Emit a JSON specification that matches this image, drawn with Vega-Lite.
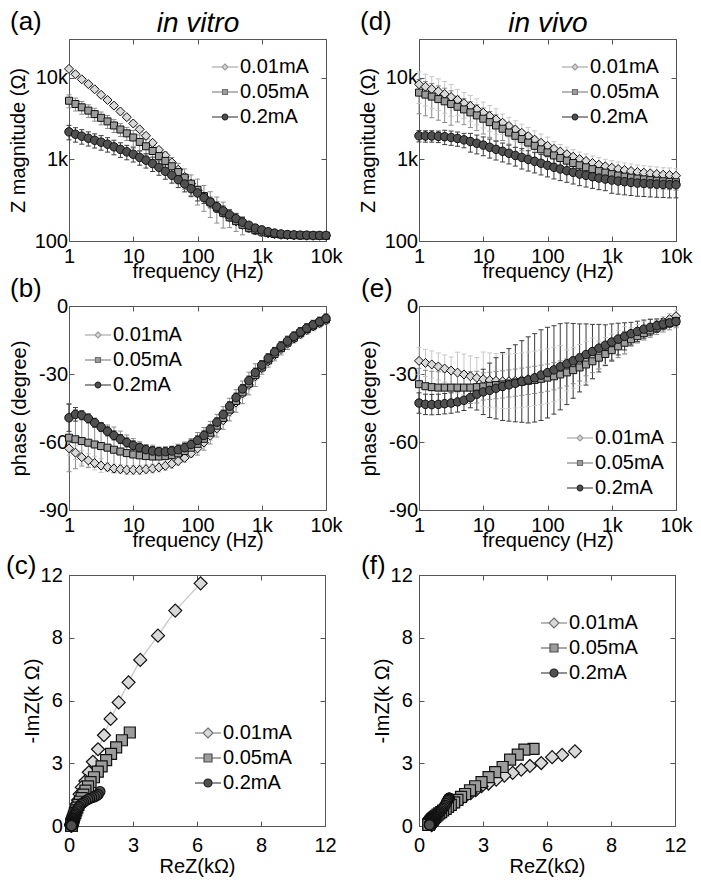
{
"$schema":"https://vega.github.io/schema/vega-lite/v6.json",
"background":"white",
"padding":{"left":5,"top":8,"right":0,"bottom":0},
"config":{
"font":"Liberation Sans",
"view":{"stroke":"#555","strokeWidth":1},
"axis":{"domain":false,"grid":false,"ticks":true,"tickSize":-5,"tickColor":"#555","tickWidth":1,"labelFont":"Liberation Sans","labelFontSize":20,"labelColor":"#000","labelPadding":7,"labelFlush":false,"labelOverlap":false,"labelBound":false,"titleFont":"Liberation Sans","titleFontSize":20,"titleFontWeight":"normal","titleColor":"#000","titlePadding":3},
"legend":{"labelFont":"Liberation Sans","labelFontSize":20,"labelColor":"#000","symbolSize":400,"symbolStrokeWidth":1.2,"labelOffset":4,"rowPadding":4,"padding":0,"symbolOpacity":1},
"title":{"font":"Liberation Sans","fontSize":26,"fontWeight":"normal","anchor":"start","frame":"group","color":"#000","offset":0,"baseline":"alphabetic"}
},
"datasets":{
"bode":[
{"p":"a","s":1,"f":1,"v":12900,"l":12100,"h":13700},{"p":"a","s":1,"f":1.26,"v":11100,"l":10400,"h":11800},{"p":"a","s":1,"f":1.58,"v":9600,"l":9000,"h":10200},{"p":"a","s":1,"f":2,"v":8400,"l":7900,"h":8900},{"p":"a","s":1,"f":2.51,"v":7250,"l":6800,"h":7700},{"p":"a","s":1,"f":3.16,"v":6200,"l":5800,"h":6600},{"p":"a","s":1,"f":3.98,"v":5360,"l":5000,"h":5700},{"p":"a","s":1,"f":5.01,"v":4570,"l":4300,"h":4850},{"p":"a","s":1,"f":6.31,"v":3880,"l":3650,"h":4100},{"p":"a","s":1,"f":7.94,"v":3300,"l":3100,"h":3500},{"p":"a","s":1,"f":10,"v":2760,"l":2600,"h":2930},{"p":"a","s":1,"f":12.6,"v":2340,"l":2200,"h":2480},{"p":"a","s":1,"f":15.8,"v":1950,"l":1830,"h":2070},{"p":"a","s":1,"f":20,"v":1600,"l":1500,"h":1700},{"p":"a","s":1,"f":25.1,"v":1310,"l":1230,"h":1390},{"p":"a","s":1,"f":31.6,"v":1120,"l":1050,"h":1190},{"p":"a","s":1,"f":39.8,"v":920,"l":860,"h":980},{"p":"a","s":1,"f":50.1,"v":750,"l":700,"h":800},{"p":"a","s":1,"f":63.1,"v":610,"l":570,"h":650},{"p":"a","s":1,"f":79.4,"v":505,"l":475,"h":535},{"p":"a","s":1,"f":100,"v":418,"l":393,"h":443},{"p":"a","s":1,"f":126,"v":352,"l":332,"h":372},{"p":"a","s":1,"f":158,"v":296,"l":280,"h":312},{"p":"a","s":1,"f":200,"v":255,"l":242,"h":268},{"p":"a","s":1,"f":251,"v":221,"l":211,"h":231},{"p":"a","s":1,"f":316,"v":194,"l":186,"h":202},{"p":"a","s":1,"f":398,"v":174,"l":168,"h":180},{"p":"a","s":1,"f":501,"v":158,"l":153,"h":163},{"p":"a","s":1,"f":631,"v":144,"l":140,"h":148},{"p":"a","s":1,"f":794,"v":135,"l":131,"h":139},{"p":"a","s":1,"f":1000,"v":129,"l":126,"h":132},{"p":"a","s":1,"f":1259,"v":124,"l":121,"h":127},{"p":"a","s":1,"f":1585,"v":121,"l":118,"h":124},{"p":"a","s":1,"f":1995,"v":119,"l":116,"h":122},{"p":"a","s":1,"f":2512,"v":118,"l":115,"h":121},{"p":"a","s":1,"f":3162,"v":117,"l":114,"h":120},{"p":"a","s":1,"f":3981,"v":117,"l":114,"h":120},{"p":"a","s":1,"f":5012,"v":116,"l":113,"h":119},{"p":"a","s":1,"f":6310,"v":116,"l":113,"h":119},{"p":"a","s":1,"f":7943,"v":116,"l":113,"h":119},{"p":"a","s":1,"f":10000,"v":116,"l":113,"h":119},
{"p":"a","s":2,"f":1,"v":5250,"l":4300,"h":6200},{"p":"a","s":2,"f":1.26,"v":4790,"l":3930,"h":5650},{"p":"a","s":2,"f":1.58,"v":4360,"l":3580,"h":5140},{"p":"a","s":2,"f":2,"v":3970,"l":3260,"h":4680},{"p":"a","s":2,"f":2.51,"v":3600,"l":2950,"h":4250},{"p":"a","s":2,"f":3.16,"v":3240,"l":2660,"h":3820},{"p":"a","s":2,"f":3.98,"v":2930,"l":2400,"h":3460},{"p":"a","s":2,"f":5.01,"v":2610,"l":2140,"h":3080},{"p":"a","s":2,"f":6.31,"v":2330,"l":1910,"h":2750},{"p":"a","s":2,"f":7.94,"v":2090,"l":1710,"h":2470},{"p":"a","s":2,"f":10,"v":1860,"l":1450,"h":2270},{"p":"a","s":2,"f":12.6,"v":1640,"l":1280,"h":2000},{"p":"a","s":2,"f":15.8,"v":1450,"l":1130,"h":1770},{"p":"a","s":2,"f":20,"v":1270,"l":990,"h":1550},{"p":"a","s":2,"f":25.1,"v":1100,"l":860,"h":1340},{"p":"a","s":2,"f":31.6,"v":960,"l":690,"h":1230},{"p":"a","s":2,"f":39.8,"v":825,"l":594,"h":1056},{"p":"a","s":2,"f":50.1,"v":700,"l":504,"h":896},{"p":"a","s":2,"f":63.1,"v":598,"l":430,"h":766},{"p":"a","s":2,"f":79.4,"v":505,"l":364,"h":646},{"p":"a","s":2,"f":100,"v":425,"l":276,"h":574},{"p":"a","s":2,"f":126,"v":355,"l":231,"h":479},{"p":"a","s":2,"f":158,"v":298,"l":194,"h":402},{"p":"a","s":2,"f":200,"v":256,"l":166,"h":346},{"p":"a","s":2,"f":251,"v":222,"l":144,"h":300},{"p":"a","s":2,"f":316,"v":195,"l":146,"h":244},{"p":"a","s":2,"f":398,"v":175,"l":131,"h":219},{"p":"a","s":2,"f":501,"v":158,"l":119,"h":198},{"p":"a","s":2,"f":631,"v":145,"l":128,"h":162},{"p":"a","s":2,"f":794,"v":136,"l":120,"h":152},{"p":"a","s":2,"f":1000,"v":130,"l":114,"h":146},{"p":"a","s":2,"f":1259,"v":125,"l":119,"h":131},{"p":"a","s":2,"f":1585,"v":122,"l":116,"h":128},{"p":"a","s":2,"f":1995,"v":120,"l":114,"h":126},{"p":"a","s":2,"f":2512,"v":119,"l":113,"h":125},{"p":"a","s":2,"f":3162,"v":118,"l":112,"h":124},{"p":"a","s":2,"f":3981,"v":117,"l":111,"h":123},{"p":"a","s":2,"f":5012,"v":117,"l":111,"h":123},{"p":"a","s":2,"f":6310,"v":117,"l":111,"h":123},{"p":"a","s":2,"f":7943,"v":116,"l":110,"h":122},{"p":"a","s":2,"f":10000,"v":116,"l":110,"h":122},
{"p":"a","s":3,"f":1,"v":2180,"l":1740,"h":2620},{"p":"a","s":3,"f":1.26,"v":2040,"l":1630,"h":2450},{"p":"a","s":3,"f":1.58,"v":1930,"l":1540,"h":2320},{"p":"a","s":3,"f":2,"v":1820,"l":1460,"h":2180},{"p":"a","s":3,"f":2.51,"v":1720,"l":1380,"h":2060},{"p":"a","s":3,"f":3.16,"v":1630,"l":1300,"h":1960},{"p":"a","s":3,"f":3.98,"v":1540,"l":1230,"h":1850},{"p":"a","s":3,"f":5.01,"v":1430,"l":1140,"h":1720},{"p":"a","s":3,"f":6.31,"v":1330,"l":1060,"h":1600},{"p":"a","s":3,"f":7.94,"v":1240,"l":990,"h":1490},{"p":"a","s":3,"f":10,"v":1160,"l":930,"h":1390},{"p":"a","s":3,"f":12.6,"v":1060,"l":850,"h":1270},{"p":"a","s":3,"f":15.8,"v":980,"l":784,"h":1176},{"p":"a","s":3,"f":20,"v":890,"l":712,"h":1068},{"p":"a","s":3,"f":25.1,"v":800,"l":640,"h":960},{"p":"a","s":3,"f":31.6,"v":715,"l":572,"h":858},{"p":"a","s":3,"f":39.8,"v":640,"l":512,"h":768},{"p":"a","s":3,"f":50.1,"v":565,"l":452,"h":678},{"p":"a","s":3,"f":63.1,"v":500,"l":400,"h":600},{"p":"a","s":3,"f":79.4,"v":438,"l":350,"h":526},{"p":"a","s":3,"f":100,"v":388,"l":310,"h":466},{"p":"a","s":3,"f":126,"v":340,"l":289,"h":391},{"p":"a","s":3,"f":158,"v":300,"l":255,"h":345},{"p":"a","s":3,"f":200,"v":263,"l":224,"h":302},{"p":"a","s":3,"f":251,"v":234,"l":199,"h":269},{"p":"a","s":3,"f":316,"v":209,"l":178,"h":240},{"p":"a","s":3,"f":398,"v":188,"l":160,"h":216},{"p":"a","s":3,"f":501,"v":170,"l":145,"h":195},{"p":"a","s":3,"f":631,"v":156,"l":144,"h":168},{"p":"a","s":3,"f":794,"v":144,"l":132,"h":156},{"p":"a","s":3,"f":1000,"v":137,"l":126,"h":148},{"p":"a","s":3,"f":1259,"v":130,"l":120,"h":140},{"p":"a","s":3,"f":1585,"v":125,"l":115,"h":135},{"p":"a","s":3,"f":1995,"v":122,"l":117,"h":127},{"p":"a","s":3,"f":2512,"v":120,"l":115,"h":125},{"p":"a","s":3,"f":3162,"v":119,"l":114,"h":124},{"p":"a","s":3,"f":3981,"v":118,"l":113,"h":123},{"p":"a","s":3,"f":5012,"v":118,"l":113,"h":123},{"p":"a","s":3,"f":6310,"v":117,"l":112,"h":122},{"p":"a","s":3,"f":7943,"v":117,"l":112,"h":122},{"p":"a","s":3,"f":10000,"v":117,"l":112,"h":122},
{"p":"d","s":1,"f":1,"v":8360,"l":4850,"h":11870},{"p":"d","s":1,"f":1.26,"v":7800,"l":4520,"h":11080},{"p":"d","s":1,"f":1.58,"v":7300,"l":4230,"h":10370},{"p":"d","s":1,"f":2,"v":6850,"l":3970,"h":9730},{"p":"d","s":1,"f":2.51,"v":6350,"l":3680,"h":9020},{"p":"d","s":1,"f":3.16,"v":5830,"l":3380,"h":8280},{"p":"d","s":1,"f":3.98,"v":5360,"l":3480,"h":7240},{"p":"d","s":1,"f":5.01,"v":4900,"l":3190,"h":6620},{"p":"d","s":1,"f":6.31,"v":4520,"l":2940,"h":6100},{"p":"d","s":1,"f":7.94,"v":4110,"l":2670,"h":5550},{"p":"d","s":1,"f":10,"v":3740,"l":2430,"h":5050},{"p":"d","s":1,"f":12.6,"v":3400,"l":2210,"h":4590},{"p":"d","s":1,"f":15.8,"v":3100,"l":2020,"h":4190},{"p":"d","s":1,"f":20,"v":2820,"l":2030,"h":3610},{"p":"d","s":1,"f":25.1,"v":2570,"l":1850,"h":3290},{"p":"d","s":1,"f":31.6,"v":2330,"l":1680,"h":2980},{"p":"d","s":1,"f":39.8,"v":2120,"l":1530,"h":2710},{"p":"d","s":1,"f":50.1,"v":1930,"l":1390,"h":2470},{"p":"d","s":1,"f":63.1,"v":1750,"l":1260,"h":2240},{"p":"d","s":1,"f":79.4,"v":1600,"l":1150,"h":2050},{"p":"d","s":1,"f":100,"v":1470,"l":1060,"h":1880},{"p":"d","s":1,"f":126,"v":1350,"l":1050,"h":1650},{"p":"d","s":1,"f":158,"v":1250,"l":975,"h":1525},{"p":"d","s":1,"f":200,"v":1160,"l":905,"h":1415},{"p":"d","s":1,"f":251,"v":1080,"l":842,"h":1318},{"p":"d","s":1,"f":316,"v":1010,"l":788,"h":1232},{"p":"d","s":1,"f":398,"v":957,"l":746,"h":1168},{"p":"d","s":1,"f":501,"v":905,"l":706,"h":1104},{"p":"d","s":1,"f":631,"v":863,"l":673,"h":1053},{"p":"d","s":1,"f":794,"v":824,"l":643,"h":1005},{"p":"d","s":1,"f":1000,"v":793,"l":619,"h":967},{"p":"d","s":1,"f":1259,"v":764,"l":596,"h":932},{"p":"d","s":1,"f":1585,"v":742,"l":579,"h":905},{"p":"d","s":1,"f":1995,"v":721,"l":562,"h":880},{"p":"d","s":1,"f":2512,"v":701,"l":547,"h":855},{"p":"d","s":1,"f":3162,"v":688,"l":537,"h":839},{"p":"d","s":1,"f":3981,"v":675,"l":527,"h":824},{"p":"d","s":1,"f":5012,"v":662,"l":516,"h":808},{"p":"d","s":1,"f":6310,"v":650,"l":507,"h":793},{"p":"d","s":1,"f":7943,"v":644,"l":502,"h":786},{"p":"d","s":1,"f":10000,"v":632,"l":493,"h":771},
{"p":"d","s":2,"f":1,"v":6600,"l":3630,"h":9570},{"p":"d","s":2,"f":1.26,"v":6240,"l":3430,"h":9050},{"p":"d","s":2,"f":1.58,"v":5900,"l":3250,"h":8550},{"p":"d","s":2,"f":2,"v":5500,"l":3030,"h":7980},{"p":"d","s":2,"f":2.51,"v":5160,"l":2840,"h":7480},{"p":"d","s":2,"f":3.16,"v":4790,"l":2630,"h":6950},{"p":"d","s":2,"f":3.98,"v":4430,"l":2880,"h":5980},{"p":"d","s":2,"f":5.01,"v":4110,"l":2670,"h":5550},{"p":"d","s":2,"f":6.31,"v":3780,"l":2460,"h":5100},{"p":"d","s":2,"f":7.94,"v":3470,"l":2260,"h":4680},{"p":"d","s":2,"f":10,"v":3160,"l":2050,"h":4270},{"p":"d","s":2,"f":12.6,"v":2870,"l":1870,"h":3870},{"p":"d","s":2,"f":15.8,"v":2610,"l":1700,"h":3520},{"p":"d","s":2,"f":20,"v":2380,"l":1710,"h":3050},{"p":"d","s":2,"f":25.1,"v":2140,"l":1540,"h":2740},{"p":"d","s":2,"f":31.6,"v":1950,"l":1400,"h":2500},{"p":"d","s":2,"f":39.8,"v":1780,"l":1280,"h":2280},{"p":"d","s":2,"f":50.1,"v":1610,"l":1160,"h":2060},{"p":"d","s":2,"f":63.1,"v":1470,"l":1060,"h":1880},{"p":"d","s":2,"f":79.4,"v":1330,"l":958,"h":1702},{"p":"d","s":2,"f":100,"v":1220,"l":878,"h":1562},{"p":"d","s":2,"f":126,"v":1120,"l":896,"h":1344},{"p":"d","s":2,"f":158,"v":1040,"l":832,"h":1248},{"p":"d","s":2,"f":200,"v":968,"l":774,"h":1162},{"p":"d","s":2,"f":251,"v":905,"l":724,"h":1086},{"p":"d","s":2,"f":316,"v":848,"l":678,"h":1018},{"p":"d","s":2,"f":398,"v":801,"l":641,"h":961},{"p":"d","s":2,"f":501,"v":760,"l":608,"h":912},{"p":"d","s":2,"f":631,"v":720,"l":576,"h":864},{"p":"d","s":2,"f":794,"v":690,"l":552,"h":828},{"p":"d","s":2,"f":1000,"v":660,"l":528,"h":792},{"p":"d","s":2,"f":1259,"v":635,"l":508,"h":762},{"p":"d","s":2,"f":1585,"v":615,"l":492,"h":738},{"p":"d","s":2,"f":1995,"v":598,"l":478,"h":718},{"p":"d","s":2,"f":2512,"v":583,"l":466,"h":700},{"p":"d","s":2,"f":3162,"v":570,"l":456,"h":684},{"p":"d","s":2,"f":3981,"v":558,"l":446,"h":670},{"p":"d","s":2,"f":5012,"v":548,"l":438,"h":658},{"p":"d","s":2,"f":6310,"v":540,"l":432,"h":648},{"p":"d","s":2,"f":7943,"v":532,"l":426,"h":638},{"p":"d","s":2,"f":10000,"v":525,"l":420,"h":630},
{"p":"d","s":3,"f":1,"v":1950,"l":1640,"h":2260},{"p":"d","s":3,"f":1.26,"v":1940,"l":1630,"h":2250},{"p":"d","s":3,"f":1.58,"v":1940,"l":1630,"h":2250},{"p":"d","s":3,"f":2,"v":1920,"l":1610,"h":2230},{"p":"d","s":3,"f":2.51,"v":1900,"l":1520,"h":2280},{"p":"d","s":3,"f":3.16,"v":1860,"l":1490,"h":2230},{"p":"d","s":3,"f":3.98,"v":1810,"l":1450,"h":2170},{"p":"d","s":3,"f":5.01,"v":1740,"l":1390,"h":2090},{"p":"d","s":3,"f":6.31,"v":1660,"l":1230,"h":2090},{"p":"d","s":3,"f":7.94,"v":1580,"l":1170,"h":1990},{"p":"d","s":3,"f":10,"v":1500,"l":1110,"h":1890},{"p":"d","s":3,"f":12.6,"v":1410,"l":1040,"h":1780},{"p":"d","s":3,"f":15.8,"v":1330,"l":984,"h":1676},{"p":"d","s":3,"f":20,"v":1260,"l":932,"h":1588},{"p":"d","s":3,"f":25.1,"v":1190,"l":881,"h":1499},{"p":"d","s":3,"f":31.6,"v":1120,"l":829,"h":1411},{"p":"d","s":3,"f":39.8,"v":1060,"l":763,"h":1357},{"p":"d","s":3,"f":50.1,"v":1000,"l":720,"h":1280},{"p":"d","s":3,"f":63.1,"v":948,"l":683,"h":1213},{"p":"d","s":3,"f":79.4,"v":897,"l":646,"h":1148},{"p":"d","s":3,"f":100,"v":848,"l":611,"h":1085},{"p":"d","s":3,"f":126,"v":801,"l":577,"h":1025},{"p":"d","s":3,"f":158,"v":764,"l":550,"h":978},{"p":"d","s":3,"f":200,"v":728,"l":524,"h":932},{"p":"d","s":3,"f":251,"v":695,"l":500,"h":890},{"p":"d","s":3,"f":316,"v":662,"l":477,"h":847},{"p":"d","s":3,"f":398,"v":638,"l":459,"h":817},{"p":"d","s":3,"f":501,"v":614,"l":442,"h":786},{"p":"d","s":3,"f":631,"v":591,"l":426,"h":756},{"p":"d","s":3,"f":794,"v":575,"l":414,"h":736},{"p":"d","s":3,"f":1000,"v":558,"l":385,"h":731},{"p":"d","s":3,"f":1259,"v":543,"l":375,"h":711},{"p":"d","s":3,"f":1585,"v":533,"l":368,"h":698},{"p":"d","s":3,"f":1995,"v":523,"l":361,"h":685},{"p":"d","s":3,"f":2512,"v":513,"l":354,"h":672},{"p":"d","s":3,"f":3162,"v":508,"l":351,"h":665},{"p":"d","s":3,"f":3981,"v":503,"l":347,"h":659},{"p":"d","s":3,"f":5012,"v":499,"l":344,"h":654},{"p":"d","s":3,"f":6310,"v":494,"l":341,"h":647},{"p":"d","s":3,"f":7943,"v":490,"l":338,"h":642},{"p":"d","s":3,"f":10000,"v":490,"l":338,"h":642},
{"p":"b","s":1,"f":1,"v":-62.8,"l":-65.8,"h":-59.8},{"p":"b","s":1,"f":1.26,"v":-64.7,"l":-67.7,"h":-61.7},{"p":"b","s":1,"f":1.58,"v":-66.7,"l":-69.7,"h":-63.7},{"p":"b","s":1,"f":2,"v":-68.1,"l":-71.1,"h":-65.1},{"p":"b","s":1,"f":2.51,"v":-69.3,"l":-72.3,"h":-66.3},{"p":"b","s":1,"f":3.16,"v":-70.4,"l":-73.4,"h":-67.4},{"p":"b","s":1,"f":3.98,"v":-71.1,"l":-73.1,"h":-69.1},{"p":"b","s":1,"f":5.01,"v":-71.7,"l":-73.7,"h":-69.7},{"p":"b","s":1,"f":6.31,"v":-72,"l":-74,"h":-70},{"p":"b","s":1,"f":7.94,"v":-72.3,"l":-74.3,"h":-70.3},{"p":"b","s":1,"f":10,"v":-72.3,"l":-74.3,"h":-70.3},{"p":"b","s":1,"f":12.6,"v":-72.3,"l":-74.3,"h":-70.3},{"p":"b","s":1,"f":15.8,"v":-72,"l":-74,"h":-70},{"p":"b","s":1,"f":20,"v":-71.7,"l":-73.7,"h":-69.7},{"p":"b","s":1,"f":25.1,"v":-71.2,"l":-73.2,"h":-69.2},{"p":"b","s":1,"f":31.6,"v":-70.5,"l":-72.5,"h":-68.5},{"p":"b","s":1,"f":39.8,"v":-69.6,"l":-71.6,"h":-67.6},{"p":"b","s":1,"f":50.1,"v":-68.4,"l":-70.4,"h":-66.4},{"p":"b","s":1,"f":63.1,"v":-67,"l":-69,"h":-65},{"p":"b","s":1,"f":79.4,"v":-65,"l":-67,"h":-63},{"p":"b","s":1,"f":100,"v":-62.8,"l":-64.8,"h":-60.8},{"p":"b","s":1,"f":126,"v":-60.2,"l":-62.2,"h":-58.2},{"p":"b","s":1,"f":158,"v":-57.2,"l":-59.2,"h":-55.2},{"p":"b","s":1,"f":200,"v":-54,"l":-56,"h":-52},{"p":"b","s":1,"f":251,"v":-50.4,"l":-52.4,"h":-48.4},{"p":"b","s":1,"f":316,"v":-46.6,"l":-48.6,"h":-44.6},{"p":"b","s":1,"f":398,"v":-42.6,"l":-44.6,"h":-40.6},{"p":"b","s":1,"f":501,"v":-38.6,"l":-40.6,"h":-36.6},{"p":"b","s":1,"f":631,"v":-34.8,"l":-36.8,"h":-32.8},{"p":"b","s":1,"f":794,"v":-31,"l":-33,"h":-29},{"p":"b","s":1,"f":1000,"v":-27.4,"l":-29.4,"h":-25.4},{"p":"b","s":1,"f":1259,"v":-24.4,"l":-26.4,"h":-22.4},{"p":"b","s":1,"f":1585,"v":-21.6,"l":-23.6,"h":-19.6},{"p":"b","s":1,"f":1995,"v":-19,"l":-21,"h":-17},{"p":"b","s":1,"f":2512,"v":-16.6,"l":-18.6,"h":-14.6},{"p":"b","s":1,"f":3162,"v":-14.4,"l":-16.4,"h":-12.4},{"p":"b","s":1,"f":3981,"v":-12.4,"l":-14.4,"h":-10.4},{"p":"b","s":1,"f":5012,"v":-10.6,"l":-12.6,"h":-8.6},{"p":"b","s":1,"f":6310,"v":-9,"l":-11,"h":-7},{"p":"b","s":1,"f":7943,"v":-7.6,"l":-9.6,"h":-5.6},{"p":"b","s":1,"f":10000,"v":-6.3,"l":-8.3,"h":-4.3},
{"p":"b","s":2,"f":1,"v":-58.1,"l":-73.1,"h":-43.1},{"p":"b","s":2,"f":1.26,"v":-58.8,"l":-71.8,"h":-45.8},{"p":"b","s":2,"f":1.58,"v":-59.6,"l":-70.6,"h":-48.6},{"p":"b","s":2,"f":2,"v":-60.3,"l":-71.3,"h":-49.3},{"p":"b","s":2,"f":2.51,"v":-61.1,"l":-71.1,"h":-51.1},{"p":"b","s":2,"f":3.16,"v":-61.8,"l":-71.8,"h":-51.8},{"p":"b","s":2,"f":3.98,"v":-62.5,"l":-72.5,"h":-52.5},{"p":"b","s":2,"f":5.01,"v":-63.4,"l":-73.4,"h":-53.4},{"p":"b","s":2,"f":6.31,"v":-64.2,"l":-73.2,"h":-55.2},{"p":"b","s":2,"f":7.94,"v":-64.9,"l":-72.9,"h":-56.9},{"p":"b","s":2,"f":10,"v":-65.5,"l":-72.5,"h":-58.5},{"p":"b","s":2,"f":12.6,"v":-65.9,"l":-71.9,"h":-59.9},{"p":"b","s":2,"f":15.8,"v":-66.2,"l":-71.2,"h":-61.2},{"p":"b","s":2,"f":20,"v":-66.4,"l":-71.4,"h":-61.4},{"p":"b","s":2,"f":25.1,"v":-66.4,"l":-70.4,"h":-62.4},{"p":"b","s":2,"f":31.6,"v":-66.2,"l":-70.2,"h":-62.2},{"p":"b","s":2,"f":39.8,"v":-65.8,"l":-69.8,"h":-61.8},{"p":"b","s":2,"f":50.1,"v":-65,"l":-69,"h":-61},{"p":"b","s":2,"f":63.1,"v":-64,"l":-68,"h":-60},{"p":"b","s":2,"f":79.4,"v":-62.5,"l":-66.5,"h":-58.5},{"p":"b","s":2,"f":100,"v":-60.8,"l":-65.8,"h":-55.8},{"p":"b","s":2,"f":126,"v":-58.6,"l":-63.6,"h":-53.6},{"p":"b","s":2,"f":158,"v":-55.9,"l":-60.9,"h":-50.9},{"p":"b","s":2,"f":200,"v":-52.8,"l":-57.8,"h":-47.8},{"p":"b","s":2,"f":251,"v":-49.4,"l":-54.4,"h":-44.4},{"p":"b","s":2,"f":316,"v":-45.7,"l":-50.7,"h":-40.7},{"p":"b","s":2,"f":398,"v":-41.9,"l":-46.9,"h":-36.9},{"p":"b","s":2,"f":501,"v":-38.1,"l":-43.1,"h":-33.1},{"p":"b","s":2,"f":631,"v":-34.2,"l":-39.2,"h":-29.2},{"p":"b","s":2,"f":794,"v":-30.5,"l":-35.5,"h":-25.5},{"p":"b","s":2,"f":1000,"v":-27.1,"l":-30.1,"h":-24.1},{"p":"b","s":2,"f":1259,"v":-24,"l":-27,"h":-21},{"p":"b","s":2,"f":1585,"v":-21.2,"l":-24.2,"h":-18.2},{"p":"b","s":2,"f":1995,"v":-18.6,"l":-21.6,"h":-15.6},{"p":"b","s":2,"f":2512,"v":-16.2,"l":-19.2,"h":-13.2},{"p":"b","s":2,"f":3162,"v":-14,"l":-16,"h":-12},{"p":"b","s":2,"f":3981,"v":-12,"l":-14,"h":-10},{"p":"b","s":2,"f":5012,"v":-10.2,"l":-12.2,"h":-8.2},{"p":"b","s":2,"f":6310,"v":-8.6,"l":-10.6,"h":-6.6},{"p":"b","s":2,"f":7943,"v":-7.2,"l":-9.2,"h":-5.2},{"p":"b","s":2,"f":10000,"v":-5.9,"l":-7.9,"h":-3.9},
{"p":"b","s":3,"f":1,"v":-49.3,"l":-55.3,"h":-43.3},{"p":"b","s":3,"f":1.26,"v":-47.8,"l":-50.8,"h":-44.8},{"p":"b","s":3,"f":1.58,"v":-48.2,"l":-50.2,"h":-46.2},{"p":"b","s":3,"f":2,"v":-49.6,"l":-51.6,"h":-47.6},{"p":"b","s":3,"f":2.51,"v":-51.5,"l":-53.5,"h":-49.5},{"p":"b","s":3,"f":3.16,"v":-53.4,"l":-55.4,"h":-51.4},{"p":"b","s":3,"f":3.98,"v":-55.3,"l":-57.3,"h":-53.3},{"p":"b","s":3,"f":5.01,"v":-57.1,"l":-59.1,"h":-55.1},{"p":"b","s":3,"f":6.31,"v":-58.7,"l":-60.7,"h":-56.7},{"p":"b","s":3,"f":7.94,"v":-60.2,"l":-62.2,"h":-58.2},{"p":"b","s":3,"f":10,"v":-61.5,"l":-63.5,"h":-59.5},{"p":"b","s":3,"f":12.6,"v":-62.5,"l":-64.5,"h":-60.5},{"p":"b","s":3,"f":15.8,"v":-63.4,"l":-65.4,"h":-61.4},{"p":"b","s":3,"f":20,"v":-64,"l":-66,"h":-62},{"p":"b","s":3,"f":25.1,"v":-64.3,"l":-66.3,"h":-62.3},{"p":"b","s":3,"f":31.6,"v":-64.3,"l":-66.3,"h":-62.3},{"p":"b","s":3,"f":39.8,"v":-64,"l":-66,"h":-62},{"p":"b","s":3,"f":50.1,"v":-63.4,"l":-65.4,"h":-61.4},{"p":"b","s":3,"f":63.1,"v":-62.5,"l":-64.5,"h":-60.5},{"p":"b","s":3,"f":79.4,"v":-61.1,"l":-63.1,"h":-59.1},{"p":"b","s":3,"f":100,"v":-59.3,"l":-61.3,"h":-57.3},{"p":"b","s":3,"f":126,"v":-57.1,"l":-59.1,"h":-55.1},{"p":"b","s":3,"f":158,"v":-54.4,"l":-56.4,"h":-52.4},{"p":"b","s":3,"f":200,"v":-51.3,"l":-53.3,"h":-49.3},{"p":"b","s":3,"f":251,"v":-47.9,"l":-49.9,"h":-45.9},{"p":"b","s":3,"f":316,"v":-44.2,"l":-46.2,"h":-42.2},{"p":"b","s":3,"f":398,"v":-40.4,"l":-42.4,"h":-38.4},{"p":"b","s":3,"f":501,"v":-36.6,"l":-38.6,"h":-34.6},{"p":"b","s":3,"f":631,"v":-32.9,"l":-34.9,"h":-30.9},{"p":"b","s":3,"f":794,"v":-29.4,"l":-31.4,"h":-27.4},{"p":"b","s":3,"f":1000,"v":-26.1,"l":-28.1,"h":-24.1},{"p":"b","s":3,"f":1259,"v":-23.1,"l":-25.1,"h":-21.1},{"p":"b","s":3,"f":1585,"v":-20.3,"l":-22.3,"h":-18.3},{"p":"b","s":3,"f":1995,"v":-17.8,"l":-19.8,"h":-15.8},{"p":"b","s":3,"f":2512,"v":-15.5,"l":-17.5,"h":-13.5},{"p":"b","s":3,"f":3162,"v":-13.4,"l":-15.4,"h":-11.4},{"p":"b","s":3,"f":3981,"v":-11.5,"l":-13.5,"h":-9.5},{"p":"b","s":3,"f":5012,"v":-9.8,"l":-11.8,"h":-7.8},{"p":"b","s":3,"f":6310,"v":-8.3,"l":-10.3,"h":-6.3},{"p":"b","s":3,"f":7943,"v":-6.9,"l":-8.9,"h":-4.9},{"p":"b","s":3,"f":10000,"v":-5.5,"l":-7.5,"h":-3.5},
{"p":"e","s":1,"f":1,"v":-24.2,"l":-30.2,"h":-18.2},{"p":"e","s":1,"f":1.26,"v":-25.1,"l":-31.1,"h":-19.1},{"p":"e","s":1,"f":1.58,"v":-25.8,"l":-31.8,"h":-19.8},{"p":"e","s":1,"f":2,"v":-26.7,"l":-32.7,"h":-20.7},{"p":"e","s":1,"f":2.51,"v":-27.6,"l":-33.6,"h":-21.6},{"p":"e","s":1,"f":3.16,"v":-28.5,"l":-34.5,"h":-22.5},{"p":"e","s":1,"f":3.98,"v":-29.4,"l":-38.4,"h":-20.4},{"p":"e","s":1,"f":5.01,"v":-30.2,"l":-39.2,"h":-21.2},{"p":"e","s":1,"f":6.31,"v":-31,"l":-40,"h":-22},{"p":"e","s":1,"f":7.94,"v":-31.7,"l":-40.7,"h":-22.7},{"p":"e","s":1,"f":10,"v":-32.3,"l":-44.3,"h":-20.3},{"p":"e","s":1,"f":12.6,"v":-32.7,"l":-44.7,"h":-20.7},{"p":"e","s":1,"f":15.8,"v":-33,"l":-45,"h":-21},{"p":"e","s":1,"f":20,"v":-33.2,"l":-45.2,"h":-21.2},{"p":"e","s":1,"f":25.1,"v":-33.2,"l":-45.2,"h":-21.2},{"p":"e","s":1,"f":31.6,"v":-33,"l":-45,"h":-21},{"p":"e","s":1,"f":39.8,"v":-32.7,"l":-44.7,"h":-20.7},{"p":"e","s":1,"f":50.1,"v":-32.3,"l":-44.3,"h":-20.3},{"p":"e","s":1,"f":63.1,"v":-31.9,"l":-43.9,"h":-19.9},{"p":"e","s":1,"f":79.4,"v":-31.4,"l":-43.4,"h":-19.4},{"p":"e","s":1,"f":100,"v":-30.9,"l":-42.9,"h":-18.9},{"p":"e","s":1,"f":126,"v":-30.2,"l":-42.2,"h":-18.2},{"p":"e","s":1,"f":158,"v":-29.4,"l":-41.4,"h":-17.4},{"p":"e","s":1,"f":200,"v":-28.4,"l":-37.4,"h":-19.4},{"p":"e","s":1,"f":251,"v":-27.3,"l":-36.3,"h":-18.3},{"p":"e","s":1,"f":316,"v":-26,"l":-35,"h":-17},{"p":"e","s":1,"f":398,"v":-24.6,"l":-33.6,"h":-15.6},{"p":"e","s":1,"f":501,"v":-23.1,"l":-32.1,"h":-14.1},{"p":"e","s":1,"f":631,"v":-21.5,"l":-27.5,"h":-15.5},{"p":"e","s":1,"f":794,"v":-19.9,"l":-25.9,"h":-13.9},{"p":"e","s":1,"f":1000,"v":-18.3,"l":-24.3,"h":-12.3},{"p":"e","s":1,"f":1259,"v":-16.7,"l":-22.7,"h":-10.7},{"p":"e","s":1,"f":1585,"v":-15.1,"l":-21.1,"h":-9.1},{"p":"e","s":1,"f":1995,"v":-13.6,"l":-17.6,"h":-9.6},{"p":"e","s":1,"f":2512,"v":-12.2,"l":-16.2,"h":-8.2},{"p":"e","s":1,"f":3162,"v":-10.9,"l":-14.9,"h":-6.9},{"p":"e","s":1,"f":3981,"v":-9.6,"l":-13.6,"h":-5.6},{"p":"e","s":1,"f":5012,"v":-8.4,"l":-10.9,"h":-5.9},{"p":"e","s":1,"f":6310,"v":-7.1,"l":-9.6,"h":-4.6},{"p":"e","s":1,"f":7943,"v":-5.8,"l":-8.3,"h":-3.3},{"p":"e","s":1,"f":10000,"v":-4.5,"l":-7,"h":-2},
{"p":"e","s":2,"f":1,"v":-34.5,"l":-41.5,"h":-27.5},{"p":"e","s":2,"f":1.26,"v":-35.4,"l":-42.4,"h":-28.4},{"p":"e","s":2,"f":1.58,"v":-35.8,"l":-42.8,"h":-28.8},{"p":"e","s":2,"f":2,"v":-36,"l":-43,"h":-29},{"p":"e","s":2,"f":2.51,"v":-36,"l":-43,"h":-29},{"p":"e","s":2,"f":3.16,"v":-36,"l":-43,"h":-29},{"p":"e","s":2,"f":3.98,"v":-36,"l":-43,"h":-29},{"p":"e","s":2,"f":5.01,"v":-36,"l":-43,"h":-29},{"p":"e","s":2,"f":6.31,"v":-36,"l":-43,"h":-29},{"p":"e","s":2,"f":7.94,"v":-35.8,"l":-42.8,"h":-28.8},{"p":"e","s":2,"f":10,"v":-35.5,"l":-41.5,"h":-29.5},{"p":"e","s":2,"f":12.6,"v":-35.2,"l":-41.2,"h":-29.2},{"p":"e","s":2,"f":15.8,"v":-34.9,"l":-40.9,"h":-28.9},{"p":"e","s":2,"f":20,"v":-34.6,"l":-40.6,"h":-28.6},{"p":"e","s":2,"f":25.1,"v":-34.2,"l":-40.2,"h":-28.2},{"p":"e","s":2,"f":31.6,"v":-33.8,"l":-39.8,"h":-27.8},{"p":"e","s":2,"f":39.8,"v":-33.4,"l":-39.4,"h":-27.4},{"p":"e","s":2,"f":50.1,"v":-33,"l":-39,"h":-27},{"p":"e","s":2,"f":63.1,"v":-32.6,"l":-38.6,"h":-26.6},{"p":"e","s":2,"f":79.4,"v":-32.1,"l":-38.1,"h":-26.1},{"p":"e","s":2,"f":100,"v":-31.6,"l":-37.6,"h":-25.6},{"p":"e","s":2,"f":126,"v":-31,"l":-37,"h":-25},{"p":"e","s":2,"f":158,"v":-30.2,"l":-36.2,"h":-24.2},{"p":"e","s":2,"f":200,"v":-29.3,"l":-35.3,"h":-23.3},{"p":"e","s":2,"f":251,"v":-28.3,"l":-34.3,"h":-22.3},{"p":"e","s":2,"f":316,"v":-27.1,"l":-33.1,"h":-21.1},{"p":"e","s":2,"f":398,"v":-25.8,"l":-30.8,"h":-20.8},{"p":"e","s":2,"f":501,"v":-24.4,"l":-29.4,"h":-19.4},{"p":"e","s":2,"f":631,"v":-22.8,"l":-27.8,"h":-17.8},{"p":"e","s":2,"f":794,"v":-21.2,"l":-26.2,"h":-16.2},{"p":"e","s":2,"f":1000,"v":-19.5,"l":-24.5,"h":-14.5},{"p":"e","s":2,"f":1259,"v":-17.8,"l":-22.8,"h":-12.8},{"p":"e","s":2,"f":1585,"v":-16.2,"l":-21.2,"h":-11.2},{"p":"e","s":2,"f":1995,"v":-14.7,"l":-17.7,"h":-11.7},{"p":"e","s":2,"f":2512,"v":-13.3,"l":-16.3,"h":-10.3},{"p":"e","s":2,"f":3162,"v":-12,"l":-15,"h":-9},{"p":"e","s":2,"f":3981,"v":-10.8,"l":-13.8,"h":-7.8},{"p":"e","s":2,"f":5012,"v":-9.6,"l":-12.6,"h":-6.6},{"p":"e","s":2,"f":6310,"v":-8.5,"l":-11.5,"h":-5.5},{"p":"e","s":2,"f":7943,"v":-7.5,"l":-10.5,"h":-4.5},{"p":"e","s":2,"f":10000,"v":-6.6,"l":-9.6,"h":-3.6},
{"p":"e","s":3,"f":1,"v":-42.8,"l":-47.3,"h":-38.3},{"p":"e","s":3,"f":1.26,"v":-43.4,"l":-47.9,"h":-38.9},{"p":"e","s":3,"f":1.58,"v":-43.5,"l":-48,"h":-39},{"p":"e","s":3,"f":2,"v":-43.4,"l":-47.9,"h":-38.9},{"p":"e","s":3,"f":2.51,"v":-43.1,"l":-47.6,"h":-38.6},{"p":"e","s":3,"f":3.16,"v":-42.8,"l":-47.3,"h":-38.3},{"p":"e","s":3,"f":3.98,"v":-42.3,"l":-46.8,"h":-37.8},{"p":"e","s":3,"f":5.01,"v":-41.6,"l":-46.1,"h":-37.1},{"p":"e","s":3,"f":6.31,"v":-40.4,"l":-44.9,"h":-35.9},{"p":"e","s":3,"f":7.94,"v":-38.9,"l":-45.9,"h":-31.9},{"p":"e","s":3,"f":10,"v":-37.9,"l":-47.9,"h":-27.9},{"p":"e","s":3,"f":12.6,"v":-37.2,"l":-49.2,"h":-25.2},{"p":"e","s":3,"f":15.8,"v":-36.3,"l":-49.8,"h":-22.8},{"p":"e","s":3,"f":20,"v":-35.5,"l":-50.5,"h":-20.5},{"p":"e","s":3,"f":25.1,"v":-34.8,"l":-50.8,"h":-18.8},{"p":"e","s":3,"f":31.6,"v":-34.1,"l":-51.1,"h":-17.1},{"p":"e","s":3,"f":39.8,"v":-33.3,"l":-51.3,"h":-15.3},{"p":"e","s":3,"f":50.1,"v":-32.6,"l":-51.6,"h":-13.6},{"p":"e","s":3,"f":63.1,"v":-31.7,"l":-51.2,"h":-12.2},{"p":"e","s":3,"f":79.4,"v":-30.5,"l":-50.5,"h":-10.5},{"p":"e","s":3,"f":100,"v":-29.4,"l":-49.4,"h":-9.4},{"p":"e","s":3,"f":126,"v":-28.2,"l":-47.7,"h":-8.7},{"p":"e","s":3,"f":158,"v":-26.8,"l":-45.8,"h":-7.8},{"p":"e","s":3,"f":200,"v":-25.5,"l":-43.5,"h":-7.5},{"p":"e","s":3,"f":251,"v":-24.2,"l":-40.7,"h":-7.7},{"p":"e","s":3,"f":316,"v":-22.9,"l":-37.9,"h":-7.9},{"p":"e","s":3,"f":398,"v":-21.4,"l":-34.9,"h":-7.9},{"p":"e","s":3,"f":501,"v":-20.1,"l":-32.1,"h":-8.1},{"p":"e","s":3,"f":631,"v":-18.6,"l":-29.1,"h":-8.1},{"p":"e","s":3,"f":794,"v":-17.3,"l":-26.3,"h":-8.3},{"p":"e","s":3,"f":1000,"v":-15.9,"l":-23.9,"h":-7.9},{"p":"e","s":3,"f":1259,"v":-14.6,"l":-21.6,"h":-7.6},{"p":"e","s":3,"f":1585,"v":-13.4,"l":-19.4,"h":-7.4},{"p":"e","s":3,"f":1995,"v":-12.2,"l":-17.2,"h":-7.2},{"p":"e","s":3,"f":2512,"v":-11.2,"l":-15.7,"h":-6.7},{"p":"e","s":3,"f":3162,"v":-10.2,"l":-14.2,"h":-6.2},{"p":"e","s":3,"f":3981,"v":-9.4,"l":-12.9,"h":-5.9},{"p":"e","s":3,"f":5012,"v":-8.7,"l":-11.7,"h":-5.7},{"p":"e","s":3,"f":6310,"v":-8,"l":-10.5,"h":-5.5},{"p":"e","s":3,"f":7943,"v":-7.4,"l":-9.4,"h":-5.4},{"p":"e","s":3,"f":10000,"v":-6.8,"l":-8.8,"h":-4.8}
],
"nyq":[
{"p":"c","s":1,"k":0,"x":6.17,"y":11.6},{"p":"c","s":1,"k":1,"x":4.98,"y":10.3},{"p":"c","s":1,"k":2,"x":4.17,"y":9.1},{"p":"c","s":1,"k":3,"x":3.34,"y":7.94},{"p":"c","s":1,"k":4,"x":2.79,"y":6.87},{"p":"c","s":1,"k":5,"x":2.33,"y":5.91},{"p":"c","s":1,"k":6,"x":1.95,"y":5.12},{"p":"c","s":1,"k":7,"x":1.64,"y":4.34},{"p":"c","s":1,"k":8,"x":1.36,"y":3.67},{"p":"c","s":1,"k":9,"x":1.12,"y":3.07},{"p":"c","s":1,"k":10,"x":0.93,"y":2.57},{"p":"c","s":1,"k":11,"x":0.77,"y":2.15},{"p":"c","s":1,"k":12,"x":0.6,"y":1.85},{"p":"c","s":1,"k":13,"x":0.5,"y":1.52},{"p":"c","s":1,"k":14,"x":0.42,"y":1.24},{"p":"c","s":1,"k":15,"x":0.37,"y":1.06},{"p":"c","s":1,"k":16,"x":0.32,"y":0.86},{"p":"c","s":1,"k":17,"x":0.28,"y":0.7},{"p":"c","s":1,"k":18,"x":0.24,"y":0.56},{"p":"c","s":1,"k":19,"x":0.21,"y":0.46},{"p":"c","s":1,"k":20,"x":0.19,"y":0.37},{"p":"c","s":1,"k":21,"x":0.175,"y":0.305},{"p":"c","s":1,"k":22,"x":0.16,"y":0.25},{"p":"c","s":1,"k":23,"x":0.15,"y":0.206},{"p":"c","s":1,"k":24,"x":0.141,"y":0.17},{"p":"c","s":1,"k":25,"x":0.133,"y":0.141},{"p":"c","s":1,"k":26,"x":0.128,"y":0.118},{"p":"c","s":1,"k":27,"x":0.124,"y":0.099},{"p":"c","s":1,"k":28,"x":0.118,"y":0.082},{"p":"c","s":1,"k":29,"x":0.116,"y":0.07},{"p":"c","s":1,"k":30,"x":0.115,"y":0.059},{"p":"c","s":1,"k":31,"x":0.113,"y":0.051},{"p":"c","s":1,"k":32,"x":0.113,"y":0.044},{"p":"c","s":1,"k":33,"x":0.113,"y":0.038},{"p":"c","s":1,"k":34,"x":0.113,"y":0.033},{"p":"c","s":1,"k":35,"x":0.113,"y":0.029},{"p":"c","s":1,"k":36,"x":0.114,"y":0.025},{"p":"c","s":1,"k":37,"x":0.114,"y":0.022},{"p":"c","s":1,"k":38,"x":0.114,"y":0.019},{"p":"c","s":1,"k":39,"x":0.115,"y":0.017},{"p":"c","s":1,"k":40,"x":0.115,"y":0.015},
{"p":"c","s":2,"k":0,"x":2.85,"y":4.47},{"p":"c","s":2,"k":1,"x":2.48,"y":4.1},{"p":"c","s":2,"k":2,"x":2.21,"y":3.76},{"p":"c","s":2,"k":3,"x":1.97,"y":3.45},{"p":"c","s":2,"k":4,"x":1.74,"y":3.15},{"p":"c","s":2,"k":5,"x":1.53,"y":2.85},{"p":"c","s":2,"k":6,"x":1.35,"y":2.6},{"p":"c","s":2,"k":7,"x":1.17,"y":2.33},{"p":"c","s":2,"k":8,"x":1.01,"y":2.1},{"p":"c","s":2,"k":9,"x":0.89,"y":1.89},{"p":"c","s":2,"k":10,"x":0.77,"y":1.69},{"p":"c","s":2,"k":11,"x":0.67,"y":1.5},{"p":"c","s":2,"k":12,"x":0.59,"y":1.33},{"p":"c","s":2,"k":13,"x":0.51,"y":1.16},{"p":"c","s":2,"k":14,"x":0.44,"y":1.01},{"p":"c","s":2,"k":15,"x":0.39,"y":0.88},{"p":"c","s":2,"k":16,"x":0.34,"y":0.75},{"p":"c","s":2,"k":17,"x":0.3,"y":0.63},{"p":"c","s":2,"k":18,"x":0.26,"y":0.54},{"p":"c","s":2,"k":19,"x":0.23,"y":0.45},{"p":"c","s":2,"k":20,"x":0.21,"y":0.37},{"p":"c","s":2,"k":21,"x":0.185,"y":0.3},{"p":"c","s":2,"k":22,"x":0.167,"y":0.247},{"p":"c","s":2,"k":23,"x":0.155,"y":0.204},{"p":"c","s":2,"k":24,"x":0.145,"y":0.168},{"p":"c","s":2,"k":25,"x":0.136,"y":0.14},{"p":"c","s":2,"k":26,"x":0.13,"y":0.117},{"p":"c","s":2,"k":27,"x":0.124,"y":0.097},{"p":"c","s":2,"k":28,"x":0.12,"y":0.081},{"p":"c","s":2,"k":29,"x":0.117,"y":0.069},{"p":"c","s":2,"k":30,"x":0.116,"y":0.059},{"p":"c","s":2,"k":31,"x":0.114,"y":0.051},{"p":"c","s":2,"k":32,"x":0.114,"y":0.044},{"p":"c","s":2,"k":33,"x":0.114,"y":0.038},{"p":"c","s":2,"k":34,"x":0.114,"y":0.033},{"p":"c","s":2,"k":35,"x":0.115,"y":0.028},{"p":"c","s":2,"k":36,"x":0.114,"y":0.025},{"p":"c","s":2,"k":37,"x":0.115,"y":0.021},{"p":"c","s":2,"k":38,"x":0.116,"y":0.018},{"p":"c","s":2,"k":39,"x":0.115,"y":0.016},{"p":"c","s":2,"k":40,"x":0.115,"y":0.013},
{"p":"c","s":3,"k":0,"x":1.45,"y":1.65},{"p":"c","s":3,"k":1,"x":1.37,"y":1.51},{"p":"c","s":3,"k":2,"x":1.29,"y":1.44},{"p":"c","s":3,"k":3,"x":1.18,"y":1.39},{"p":"c","s":3,"k":4,"x":1.07,"y":1.35},{"p":"c","s":3,"k":5,"x":0.97,"y":1.31},{"p":"c","s":3,"k":6,"x":0.88,"y":1.27},{"p":"c","s":3,"k":7,"x":0.78,"y":1.2},{"p":"c","s":3,"k":8,"x":0.69,"y":1.14},{"p":"c","s":3,"k":9,"x":0.62,"y":1.08},{"p":"c","s":3,"k":10,"x":0.55,"y":1.02},{"p":"c","s":3,"k":11,"x":0.49,"y":0.94},{"p":"c","s":3,"k":12,"x":0.44,"y":0.88},{"p":"c","s":3,"k":13,"x":0.39,"y":0.8},{"p":"c","s":3,"k":14,"x":0.35,"y":0.72},{"p":"c","s":3,"k":15,"x":0.31,"y":0.64},{"p":"c","s":3,"k":16,"x":0.28,"y":0.58},{"p":"c","s":3,"k":17,"x":0.25,"y":0.51},{"p":"c","s":3,"k":18,"x":0.23,"y":0.44},{"p":"c","s":3,"k":19,"x":0.21,"y":0.38},{"p":"c","s":3,"k":20,"x":0.2,"y":0.33},{"p":"c","s":3,"k":21,"x":0.185,"y":0.286},{"p":"c","s":3,"k":22,"x":0.175,"y":0.244},{"p":"c","s":3,"k":23,"x":0.164,"y":0.205},{"p":"c","s":3,"k":24,"x":0.157,"y":0.174},{"p":"c","s":3,"k":25,"x":0.15,"y":0.146},{"p":"c","s":3,"k":26,"x":0.143,"y":0.122},{"p":"c","s":3,"k":27,"x":0.137,"y":0.101},{"p":"c","s":3,"k":28,"x":0.131,"y":0.085},{"p":"c","s":3,"k":29,"x":0.125,"y":0.071},{"p":"c","s":3,"k":30,"x":0.123,"y":0.06},{"p":"c","s":3,"k":31,"x":0.12,"y":0.051},{"p":"c","s":3,"k":32,"x":0.117,"y":0.043},{"p":"c","s":3,"k":33,"x":0.116,"y":0.037},{"p":"c","s":3,"k":34,"x":0.116,"y":0.032},{"p":"c","s":3,"k":35,"x":0.116,"y":0.028},{"p":"c","s":3,"k":36,"x":0.116,"y":0.024},{"p":"c","s":3,"k":37,"x":0.116,"y":0.02},{"p":"c","s":3,"k":38,"x":0.116,"y":0.018},{"p":"c","s":3,"k":39,"x":0.116,"y":0.015},{"p":"c","s":3,"k":40,"x":0.116,"y":0.013},
{"p":"f","s":1,"k":0,"x":7.31,"y":3.57},{"p":"f","s":1,"k":1,"x":6.71,"y":3.4},{"p":"f","s":1,"k":2,"x":6.24,"y":3.29},{"p":"f","s":1,"k":3,"x":5.73,"y":3.01},{"p":"f","s":1,"k":4,"x":5.2,"y":2.87},{"p":"f","s":1,"k":5,"x":4.79,"y":2.69},{"p":"f","s":1,"k":6,"x":4.39,"y":2.54},{"p":"f","s":1,"k":7,"x":4.0,"y":2.41},{"p":"f","s":1,"k":8,"x":3.62,"y":2.22},{"p":"f","s":1,"k":9,"x":3.26,"y":2.03},{"p":"f","s":1,"k":10,"x":2.93,"y":1.9},{"p":"f","s":1,"k":11,"x":2.66,"y":1.71},{"p":"f","s":1,"k":12,"x":2.42,"y":1.57},{"p":"f","s":1,"k":13,"x":2.19,"y":1.44},{"p":"f","s":1,"k":14,"x":2.0,"y":1.31},{"p":"f","s":1,"k":15,"x":1.82,"y":1.18},{"p":"f","s":1,"k":16,"x":1.66,"y":1.06},{"p":"f","s":1,"k":17,"x":1.51,"y":0.96},{"p":"f","s":1,"k":18,"x":1.38,"y":0.86},{"p":"f","s":1,"k":19,"x":1.27,"y":0.78},{"p":"f","s":1,"k":20,"x":1.18,"y":0.7},{"p":"f","s":1,"k":21,"x":1.09,"y":0.63},{"p":"f","s":1,"k":22,"x":1.01,"y":0.57},{"p":"f","s":1,"k":23,"x":0.95,"y":0.51},{"p":"f","s":1,"k":24,"x":0.89,"y":0.46},{"p":"f","s":1,"k":25,"x":0.85,"y":0.41},{"p":"f","s":1,"k":26,"x":0.81,"y":0.37},{"p":"f","s":1,"k":27,"x":0.77,"y":0.33},{"p":"f","s":1,"k":28,"x":0.74,"y":0.29},{"p":"f","s":1,"k":29,"x":0.72,"y":0.26},{"p":"f","s":1,"k":30,"x":0.7,"y":0.23},{"p":"f","s":1,"k":31,"x":0.68,"y":0.2},{"p":"f","s":1,"k":32,"x":0.67,"y":0.18},{"p":"f","s":1,"k":33,"x":0.65,"y":0.16},{"p":"f","s":1,"k":34,"x":0.64,"y":0.14},{"p":"f","s":1,"k":35,"x":0.63,"y":0.12},{"p":"f","s":1,"k":36,"x":0.62,"y":0.105},{"p":"f","s":1,"k":37,"x":0.61,"y":0.09},{"p":"f","s":1,"k":38,"x":0.6,"y":0.075},{"p":"f","s":1,"k":39,"x":0.6,"y":0.06},{"p":"f","s":1,"k":40,"x":0.59,"y":0.046},
{"p":"f","s":2,"k":0,"x":5.37,"y":3.69},{"p":"f","s":2,"k":1,"x":4.94,"y":3.65},{"p":"f","s":2,"k":2,"x":4.63,"y":3.41},{"p":"f","s":2,"k":3,"x":4.27,"y":3.17},{"p":"f","s":2,"k":4,"x":3.92,"y":2.82},{"p":"f","s":2,"k":5,"x":3.57,"y":2.58},{"p":"f","s":2,"k":6,"x":3.26,"y":2.34},{"p":"f","s":2,"k":7,"x":2.93,"y":2.1},{"p":"f","s":2,"k":8,"x":2.63,"y":1.9},{"p":"f","s":2,"k":9,"x":2.39,"y":1.71},{"p":"f","s":2,"k":10,"x":2.16,"y":1.53},{"p":"f","s":2,"k":11,"x":1.97,"y":1.39},{"p":"f","s":2,"k":12,"x":1.8,"y":1.25},{"p":"f","s":2,"k":13,"x":1.65,"y":1.13},{"p":"f","s":2,"k":14,"x":1.49,"y":1.01},{"p":"f","s":2,"k":15,"x":1.36,"y":0.91},{"p":"f","s":2,"k":16,"x":1.25,"y":0.82},{"p":"f","s":2,"k":17,"x":1.13,"y":0.74},{"p":"f","s":2,"k":18,"x":1.04,"y":0.66},{"p":"f","s":2,"k":19,"x":0.95,"y":0.6},{"p":"f","s":2,"k":20,"x":0.87,"y":0.54},{"p":"f","s":2,"k":21,"x":0.81,"y":0.49},{"p":"f","s":2,"k":22,"x":0.76,"y":0.44},{"p":"f","s":2,"k":23,"x":0.71,"y":0.4},{"p":"f","s":2,"k":24,"x":0.67,"y":0.36},{"p":"f","s":2,"k":25,"x":0.63,"y":0.33},{"p":"f","s":2,"k":26,"x":0.6,"y":0.29},{"p":"f","s":2,"k":27,"x":0.58,"y":0.26},{"p":"f","s":2,"k":28,"x":0.56,"y":0.24},{"p":"f","s":2,"k":29,"x":0.54,"y":0.21},{"p":"f","s":2,"k":30,"x":0.52,"y":0.19},{"p":"f","s":2,"k":31,"x":0.51,"y":0.16},{"p":"f","s":2,"k":32,"x":0.5,"y":0.14},{"p":"f","s":2,"k":33,"x":0.49,"y":0.13},{"p":"f","s":2,"k":34,"x":0.48,"y":0.11},{"p":"f","s":2,"k":35,"x":0.47,"y":0.1},{"p":"f","s":2,"k":36,"x":0.46,"y":0.09},{"p":"f","s":2,"k":37,"x":0.46,"y":0.08},{"p":"f","s":2,"k":38,"x":0.45,"y":0.07},{"p":"f","s":2,"k":39,"x":0.45,"y":0.06},{"p":"f","s":2,"k":40,"x":0.44,"y":0.05},
{"p":"f","s":3,"k":0,"x":1.43,"y":1.33},{"p":"f","s":3,"k":1,"x":1.41,"y":1.33},{"p":"f","s":3,"k":2,"x":1.41,"y":1.33},{"p":"f","s":3,"k":3,"x":1.4,"y":1.32},{"p":"f","s":3,"k":4,"x":1.39,"y":1.3},{"p":"f","s":3,"k":5,"x":1.37,"y":1.26},{"p":"f","s":3,"k":6,"x":1.34,"y":1.22},{"p":"f","s":3,"k":7,"x":1.3,"y":1.16},{"p":"f","s":3,"k":8,"x":1.26,"y":1.08},{"p":"f","s":3,"k":9,"x":1.23,"y":0.99},{"p":"f","s":3,"k":10,"x":1.18,"y":0.92},{"p":"f","s":3,"k":11,"x":1.12,"y":0.85},{"p":"f","s":3,"k":12,"x":1.07,"y":0.79},{"p":"f","s":3,"k":13,"x":1.03,"y":0.73},{"p":"f","s":3,"k":14,"x":0.98,"y":0.68},{"p":"f","s":3,"k":15,"x":0.93,"y":0.63},{"p":"f","s":3,"k":16,"x":0.89,"y":0.58},{"p":"f","s":3,"k":17,"x":0.84,"y":0.54},{"p":"f","s":3,"k":18,"x":0.81,"y":0.5},{"p":"f","s":3,"k":19,"x":0.77,"y":0.46},{"p":"f","s":3,"k":20,"x":0.74,"y":0.42},{"p":"f","s":3,"k":21,"x":0.71,"y":0.38},{"p":"f","s":3,"k":22,"x":0.68,"y":0.34},{"p":"f","s":3,"k":23,"x":0.66,"y":0.31},{"p":"f","s":3,"k":24,"x":0.63,"y":0.28},{"p":"f","s":3,"k":25,"x":0.61,"y":0.26},{"p":"f","s":3,"k":26,"x":0.59,"y":0.23},{"p":"f","s":3,"k":27,"x":0.58,"y":0.21},{"p":"f","s":3,"k":28,"x":0.56,"y":0.19},{"p":"f","s":3,"k":29,"x":0.55,"y":0.17},{"p":"f","s":3,"k":30,"x":0.54,"y":0.15},{"p":"f","s":3,"k":31,"x":0.53,"y":0.14},{"p":"f","s":3,"k":32,"x":0.52,"y":0.12},{"p":"f","s":3,"k":33,"x":0.51,"y":0.11},{"p":"f","s":3,"k":34,"x":0.5,"y":0.1},{"p":"f","s":3,"k":35,"x":0.5,"y":0.09},{"p":"f","s":3,"k":36,"x":0.5,"y":0.08},{"p":"f","s":3,"k":37,"x":0.49,"y":0.075},{"p":"f","s":3,"k":38,"x":0.49,"y":0.07},{"p":"f","s":3,"k":39,"x":0.49,"y":0.063},{"p":"f","s":3,"k":40,"x":0.49,"y":0.058}
]
},
"columns":2,
"spacing":{"row":65,"column":93},
"bounds":"flush",
"resolve":{"scale":{"shape":"independent","fill":"independent","stroke":"independent","color":"independent"},"legend":{"shape":"independent","fill":"independent","stroke":"independent"}},
"concat":[
{"width":257,"height":202,"title":{"text":"(a)","dx":-59,"dy":29.5},"data":{"name":"bode"},"transform":[{"filter":"datum.p=='a'"}],
"layer":[
{"mark":{"type":"rule","strokeWidth":1},"encoding":{"x":{"field":"f","type":"quantitative","scale":{"type":"log","domain":[1,10000],"nice":false},"axis":null},"y":{"field":"l","type":"quantitative","scale":{"type":"log","domain":[100,30000],"nice":false},"axis":null},"y2":{"field":"h"},"color":{"field":"s","type":"nominal","scale":{"domain":[1,2,3],"range":["#c8c8c8","#8c8c8c","#3c3c3c"]},"legend":null}}},
{"mark":{"type":"tick","orient":"horizontal","size":5,"thickness":1,"opacity":1},"encoding":{"x":{"field":"f","type":"quantitative","scale":{"type":"log","domain":[1,10000],"nice":false},"axis":null},"y":{"field":"l","type":"quantitative","scale":{"type":"log","domain":[100,30000],"nice":false},"axis":null},"color":{"field":"s","type":"nominal","scale":{"domain":[1,2,3],"range":["#c8c8c8","#8c8c8c","#3c3c3c"]},"legend":null}}},
{"mark":{"type":"tick","orient":"horizontal","size":5,"thickness":1,"opacity":1},"encoding":{"x":{"field":"f","type":"quantitative","scale":{"type":"log","domain":[1,10000],"nice":false},"axis":null},"y":{"field":"h","type":"quantitative","scale":{"type":"log","domain":[100,30000],"nice":false},"axis":null},"color":{"field":"s","type":"nominal","scale":{"domain":[1,2,3],"range":["#c8c8c8","#8c8c8c","#3c3c3c"]},"legend":null}}},
{"mark":{"type":"line","strokeWidth":1.3},"encoding":{"x":{"field":"f","type":"quantitative","scale":{"type":"log","domain":[1,10000],"nice":false},"axis":{"orient":"top","values":[1,10,100,1000,10000],"labels":false,"title":"in vitro","titleFontStyle":"italic","titleFontSize":28,"titleBaseline":"alphabetic","titlePadding":7.5}},"y":{"field":"v","type":"quantitative","scale":{"type":"log","domain":[100,30000],"nice":false},"axis":{"orient":"right","values":[100,1000,10000],"labels":false,"title":null}},"color":{"field":"s","type":"nominal","scale":{"domain":[1,2,3],"range":["#c8c8c8","#8c8c8c","#3c3c3c"]},"legend":null}}},
{"transform":[{"filter":"datum.s==1"}],"mark":{"type":"point","shape":"diamond","filled":true,"fill":"#d9d9d9","stroke":"#111","strokeWidth":1,"size":81,"opacity":1},"encoding":{"x":{"field":"f","type":"quantitative","scale":{"type":"log","domain":[1,10000],"nice":false},"axis":{"values":[1,10,100,1000,10000],"labelExpr":"datum.value>=1000 ? (datum.value/1000)+'k' : ''+datum.value","title":"frequency (Hz)","labelPadding":10.5,"titlePadding":-5}},"y":{"field":"v","type":"quantitative","scale":{"type":"log","domain":[100,30000],"nice":false},"axis":{"values":[100,1000,10000],"labelExpr":"datum.value>=1000 ? (datum.value/1000)+'k' : ''+datum.value","title":"Z magnitude (Ω)","labelPadding":6.5,"titlePadding":6}}}},
{"transform":[{"filter":"datum.s==2"}],"mark":{"type":"point","shape":"square","filled":true,"fill":"#9c9c9c","stroke":"#111","strokeWidth":1,"size":49,"opacity":1},"encoding":{"x":{"field":"f","type":"quantitative","scale":{"type":"log","domain":[1,10000],"nice":false},"axis":null},"y":{"field":"v","type":"quantitative","scale":{"type":"log","domain":[100,30000],"nice":false},"axis":null}}},
{"transform":[{"filter":"datum.s==3"}],"mark":{"type":"point","shape":"circle","filled":true,"fill":"#505050","stroke":"#111","strokeWidth":1,"size":72,"opacity":1},"encoding":{"x":{"field":"f","type":"quantitative","scale":{"type":"log","domain":[1,10000],"nice":false},"axis":null},"y":{"field":"v","type":"quantitative","scale":{"type":"log","domain":[100,30000],"nice":false},"axis":null}}},
{"data":{"values":[]},"mark":{"type":"point","filled":true,"opacity":1},"encoding":{"shape":{"field":"n","type":"nominal","scale":{"domain":["0.01mA","0.05mA","0.2mA"],"range":["M-1.3,0H-0.3M0.3,0H1.3M0,-0.3L0.3,0L0,0.3L-0.3,0Z","M-1.3,0H-0.25M0.25,0H1.3M-0.25,-0.25H0.25V0.25H-0.25Z","M-1.3,0H-0.28M0.28,0H1.3M0.28,0A0.28,0.28,0,1,1,-0.28,0A0.28,0.28,0,1,1,0.28,0Z"]},"legend":{"title":null,"orient":"top-right","offset":17}},"fill":{"field":"n","type":"nominal","scale":{"domain":["0.01mA","0.05mA","0.2mA"],"range":["#d9d9d9","#9c9c9c","#505050"]},"legend":{"title":null,"orient":"top-right","offset":17}},"stroke":{"field":"n","type":"nominal","scale":{"domain":["0.01mA","0.05mA","0.2mA"],"range":["#9a9a9a","#707070","#2a2a2a"]},"legend":{"title":null,"orient":"top-right","offset":17}}}}
],
"resolve":{"axis":{"x":"independent","y":"independent"}}},
{"width":257,"height":202,"title":{"text":"(d)","dx":-59,"dy":29.5},"data":{"name":"bode"},"transform":[{"filter":"datum.p=='d'"}],
"layer":[
{"mark":{"type":"rule","strokeWidth":1},"encoding":{"x":{"field":"f","type":"quantitative","scale":{"type":"log","domain":[1,10000],"nice":false},"axis":null},"y":{"field":"l","type":"quantitative","scale":{"type":"log","domain":[100,30000],"nice":false},"axis":null},"y2":{"field":"h"},"color":{"field":"s","type":"nominal","scale":{"domain":[1,2,3],"range":["#c8c8c8","#8c8c8c","#3c3c3c"]},"legend":null}}},
{"mark":{"type":"tick","orient":"horizontal","size":5,"thickness":1,"opacity":1},"encoding":{"x":{"field":"f","type":"quantitative","scale":{"type":"log","domain":[1,10000],"nice":false},"axis":null},"y":{"field":"l","type":"quantitative","scale":{"type":"log","domain":[100,30000],"nice":false},"axis":null},"color":{"field":"s","type":"nominal","scale":{"domain":[1,2,3],"range":["#c8c8c8","#8c8c8c","#3c3c3c"]},"legend":null}}},
{"mark":{"type":"tick","orient":"horizontal","size":5,"thickness":1,"opacity":1},"encoding":{"x":{"field":"f","type":"quantitative","scale":{"type":"log","domain":[1,10000],"nice":false},"axis":null},"y":{"field":"h","type":"quantitative","scale":{"type":"log","domain":[100,30000],"nice":false},"axis":null},"color":{"field":"s","type":"nominal","scale":{"domain":[1,2,3],"range":["#c8c8c8","#8c8c8c","#3c3c3c"]},"legend":null}}},
{"mark":{"type":"line","strokeWidth":1.3},"encoding":{"x":{"field":"f","type":"quantitative","scale":{"type":"log","domain":[1,10000],"nice":false},"axis":{"orient":"top","values":[1,10,100,1000,10000],"labels":false,"title":"in vivo","titleFontStyle":"italic","titleFontSize":28,"titleBaseline":"alphabetic","titlePadding":7.5}},"y":{"field":"v","type":"quantitative","scale":{"type":"log","domain":[100,30000],"nice":false},"axis":{"orient":"right","values":[100,1000,10000],"labels":false,"title":null}},"color":{"field":"s","type":"nominal","scale":{"domain":[1,2,3],"range":["#c8c8c8","#8c8c8c","#3c3c3c"]},"legend":null}}},
{"transform":[{"filter":"datum.s==1"}],"mark":{"type":"point","shape":"diamond","filled":true,"fill":"#d9d9d9","stroke":"#111","strokeWidth":1,"size":81,"opacity":1},"encoding":{"x":{"field":"f","type":"quantitative","scale":{"type":"log","domain":[1,10000],"nice":false},"axis":{"values":[1,10,100,1000,10000],"labelExpr":"datum.value>=1000 ? (datum.value/1000)+'k' : ''+datum.value","title":"frequency (Hz)","labelPadding":10.5,"titlePadding":-5}},"y":{"field":"v","type":"quantitative","scale":{"type":"log","domain":[100,30000],"nice":false},"axis":{"values":[100,1000,10000],"labelExpr":"datum.value>=1000 ? (datum.value/1000)+'k' : ''+datum.value","title":"Z magnitude (Ω)","labelPadding":6.5,"titlePadding":6}}}},
{"transform":[{"filter":"datum.s==2"}],"mark":{"type":"point","shape":"square","filled":true,"fill":"#9c9c9c","stroke":"#111","strokeWidth":1,"size":49,"opacity":1},"encoding":{"x":{"field":"f","type":"quantitative","scale":{"type":"log","domain":[1,10000],"nice":false},"axis":null},"y":{"field":"v","type":"quantitative","scale":{"type":"log","domain":[100,30000],"nice":false},"axis":null}}},
{"transform":[{"filter":"datum.s==3"}],"mark":{"type":"point","shape":"circle","filled":true,"fill":"#505050","stroke":"#111","strokeWidth":1,"size":72,"opacity":1},"encoding":{"x":{"field":"f","type":"quantitative","scale":{"type":"log","domain":[1,10000],"nice":false},"axis":null},"y":{"field":"v","type":"quantitative","scale":{"type":"log","domain":[100,30000],"nice":false},"axis":null}}},
{"data":{"values":[]},"mark":{"type":"point","filled":true,"opacity":1},"encoding":{"shape":{"field":"n","type":"nominal","scale":{"domain":["0.01mA","0.05mA","0.2mA"],"range":["M-1.3,0H-0.3M0.3,0H1.3M0,-0.3L0.3,0L0,0.3L-0.3,0Z","M-1.3,0H-0.25M0.25,0H1.3M-0.25,-0.25H0.25V0.25H-0.25Z","M-1.3,0H-0.28M0.28,0H1.3M0.28,0A0.28,0.28,0,1,1,-0.28,0A0.28,0.28,0,1,1,0.28,0Z"]},"legend":{"title":null,"orient":"top-right","offset":17}},"fill":{"field":"n","type":"nominal","scale":{"domain":["0.01mA","0.05mA","0.2mA"],"range":["#d9d9d9","#9c9c9c","#505050"]},"legend":{"title":null,"orient":"top-right","offset":17}},"stroke":{"field":"n","type":"nominal","scale":{"domain":["0.01mA","0.05mA","0.2mA"],"range":["#9a9a9a","#707070","#2a2a2a"]},"legend":{"title":null,"orient":"top-right","offset":17}}}}
],
"resolve":{"axis":{"x":"independent","y":"independent"}}},
{"width":257,"height":204,"title":{"text":"(b)","dx":-59,"dy":10},"data":{"name":"bode"},"transform":[{"filter":"datum.p=='b'"}],
"layer":[
{"mark":{"type":"rule","strokeWidth":1},"encoding":{"x":{"field":"f","type":"quantitative","scale":{"type":"log","domain":[1,10000],"nice":false},"axis":null},"y":{"field":"l","type":"quantitative","scale":{"domain":[-90,0],"nice":false,"zero":false},"axis":null},"y2":{"field":"h"},"color":{"field":"s","type":"nominal","scale":{"domain":[1,2,3],"range":["#c8c8c8","#8c8c8c","#3c3c3c"]},"legend":null}}},
{"mark":{"type":"tick","orient":"horizontal","size":5,"thickness":1,"opacity":1},"encoding":{"x":{"field":"f","type":"quantitative","scale":{"type":"log","domain":[1,10000],"nice":false},"axis":null},"y":{"field":"l","type":"quantitative","scale":{"domain":[-90,0],"nice":false,"zero":false},"axis":null},"color":{"field":"s","type":"nominal","scale":{"domain":[1,2,3],"range":["#c8c8c8","#8c8c8c","#3c3c3c"]},"legend":null}}},
{"mark":{"type":"tick","orient":"horizontal","size":5,"thickness":1,"opacity":1},"encoding":{"x":{"field":"f","type":"quantitative","scale":{"type":"log","domain":[1,10000],"nice":false},"axis":null},"y":{"field":"h","type":"quantitative","scale":{"domain":[-90,0],"nice":false,"zero":false},"axis":null},"color":{"field":"s","type":"nominal","scale":{"domain":[1,2,3],"range":["#c8c8c8","#8c8c8c","#3c3c3c"]},"legend":null}}},
{"mark":{"type":"line","strokeWidth":1.3},"encoding":{"x":{"field":"f","type":"quantitative","scale":{"type":"log","domain":[1,10000],"nice":false},"axis":{"orient":"top","values":[1,10,100,1000,10000],"labels":false,"title":null}},"y":{"field":"v","type":"quantitative","scale":{"domain":[-90,0],"nice":false,"zero":false},"axis":{"orient":"right","values":[-90,-60,-30,0],"labels":false,"title":null}},"color":{"field":"s","type":"nominal","scale":{"domain":[1,2,3],"range":["#c8c8c8","#8c8c8c","#3c3c3c"]},"legend":null}}},
{"transform":[{"filter":"datum.s==1"}],"mark":{"type":"point","shape":"diamond","filled":true,"fill":"#d9d9d9","stroke":"#111","strokeWidth":1,"size":81,"opacity":1},"encoding":{"x":{"field":"f","type":"quantitative","scale":{"type":"log","domain":[1,10000],"nice":false},"axis":{"values":[1,10,100,1000,10000],"labelExpr":"datum.value>=1000 ? (datum.value/1000)+'k' : ''+datum.value","title":"frequency (Hz)","labelPadding":10.5,"titlePadding":-5}},"y":{"field":"v","type":"quantitative","scale":{"domain":[-90,0],"nice":false,"zero":false},"axis":{"values":[-90,-60,-30,0],"labelExpr":"''+datum.value","title":"phase (degree)","labelPadding":6.5,"titlePadding":9.5}}}},
{"transform":[{"filter":"datum.s==2"}],"mark":{"type":"point","shape":"square","filled":true,"fill":"#9c9c9c","stroke":"#111","strokeWidth":1,"size":49,"opacity":1},"encoding":{"x":{"field":"f","type":"quantitative","scale":{"type":"log","domain":[1,10000],"nice":false},"axis":null},"y":{"field":"v","type":"quantitative","scale":{"domain":[-90,0],"nice":false,"zero":false},"axis":null}}},
{"transform":[{"filter":"datum.s==3"}],"mark":{"type":"point","shape":"circle","filled":true,"fill":"#505050","stroke":"#111","strokeWidth":1,"size":72,"opacity":1},"encoding":{"x":{"field":"f","type":"quantitative","scale":{"type":"log","domain":[1,10000],"nice":false},"axis":null},"y":{"field":"v","type":"quantitative","scale":{"domain":[-90,0],"nice":false,"zero":false},"axis":null}}},
{"data":{"values":[]},"mark":{"type":"point","filled":true,"opacity":1},"encoding":{"shape":{"field":"n","type":"nominal","scale":{"domain":["0.01mA","0.05mA","0.2mA"],"range":["M-1.3,0H-0.3M0.3,0H1.3M0,-0.3L0.3,0L0,0.3L-0.3,0Z","M-1.3,0H-0.25M0.25,0H1.3M-0.25,-0.25H0.25V0.25H-0.25Z","M-1.3,0H-0.28M0.28,0H1.3M0.28,0A0.28,0.28,0,1,1,-0.28,0A0.28,0.28,0,1,1,0.28,0Z"]},"legend":{"title":null,"orient":"top-left","offset":18}},"fill":{"field":"n","type":"nominal","scale":{"domain":["0.01mA","0.05mA","0.2mA"],"range":["#d9d9d9","#9c9c9c","#505050"]},"legend":{"title":null,"orient":"top-left","offset":18}},"stroke":{"field":"n","type":"nominal","scale":{"domain":["0.01mA","0.05mA","0.2mA"],"range":["#9a9a9a","#707070","#2a2a2a"]},"legend":{"title":null,"orient":"top-left","offset":18}}}}
],
"resolve":{"axis":{"x":"independent","y":"independent"}}},
{"width":257,"height":204,"title":{"text":"(e)","dx":-58,"dy":10},"data":{"name":"bode"},"transform":[{"filter":"datum.p=='e'"}],
"layer":[
{"mark":{"type":"rule","strokeWidth":1},"encoding":{"x":{"field":"f","type":"quantitative","scale":{"type":"log","domain":[1,10000],"nice":false},"axis":null},"y":{"field":"l","type":"quantitative","scale":{"domain":[-90,0],"nice":false,"zero":false},"axis":null},"y2":{"field":"h"},"color":{"field":"s","type":"nominal","scale":{"domain":[1,2,3],"range":["#c8c8c8","#8c8c8c","#3c3c3c"]},"legend":null}}},
{"mark":{"type":"tick","orient":"horizontal","size":5,"thickness":1,"opacity":1},"encoding":{"x":{"field":"f","type":"quantitative","scale":{"type":"log","domain":[1,10000],"nice":false},"axis":null},"y":{"field":"l","type":"quantitative","scale":{"domain":[-90,0],"nice":false,"zero":false},"axis":null},"color":{"field":"s","type":"nominal","scale":{"domain":[1,2,3],"range":["#c8c8c8","#8c8c8c","#3c3c3c"]},"legend":null}}},
{"mark":{"type":"tick","orient":"horizontal","size":5,"thickness":1,"opacity":1},"encoding":{"x":{"field":"f","type":"quantitative","scale":{"type":"log","domain":[1,10000],"nice":false},"axis":null},"y":{"field":"h","type":"quantitative","scale":{"domain":[-90,0],"nice":false,"zero":false},"axis":null},"color":{"field":"s","type":"nominal","scale":{"domain":[1,2,3],"range":["#c8c8c8","#8c8c8c","#3c3c3c"]},"legend":null}}},
{"mark":{"type":"line","strokeWidth":1.3},"encoding":{"x":{"field":"f","type":"quantitative","scale":{"type":"log","domain":[1,10000],"nice":false},"axis":{"orient":"top","values":[1,10,100,1000,10000],"labels":false,"title":null}},"y":{"field":"v","type":"quantitative","scale":{"domain":[-90,0],"nice":false,"zero":false},"axis":{"orient":"right","values":[-90,-60,-30,0],"labels":false,"title":null}},"color":{"field":"s","type":"nominal","scale":{"domain":[1,2,3],"range":["#c8c8c8","#8c8c8c","#3c3c3c"]},"legend":null}}},
{"transform":[{"filter":"datum.s==1"}],"mark":{"type":"point","shape":"diamond","filled":true,"fill":"#d9d9d9","stroke":"#111","strokeWidth":1,"size":81,"opacity":1},"encoding":{"x":{"field":"f","type":"quantitative","scale":{"type":"log","domain":[1,10000],"nice":false},"axis":{"values":[1,10,100,1000,10000],"labelExpr":"datum.value>=1000 ? (datum.value/1000)+'k' : ''+datum.value","title":"frequency (Hz)","labelPadding":10.5,"titlePadding":-5}},"y":{"field":"v","type":"quantitative","scale":{"domain":[-90,0],"nice":false,"zero":false},"axis":{"values":[-90,-60,-30,0],"labelExpr":"''+datum.value","title":"phase (degree)","labelPadding":6.5,"titlePadding":9.5}}}},
{"transform":[{"filter":"datum.s==2"}],"mark":{"type":"point","shape":"square","filled":true,"fill":"#9c9c9c","stroke":"#111","strokeWidth":1,"size":49,"opacity":1},"encoding":{"x":{"field":"f","type":"quantitative","scale":{"type":"log","domain":[1,10000],"nice":false},"axis":null},"y":{"field":"v","type":"quantitative","scale":{"domain":[-90,0],"nice":false,"zero":false},"axis":null}}},
{"transform":[{"filter":"datum.s==3"}],"mark":{"type":"point","shape":"circle","filled":true,"fill":"#505050","stroke":"#111","strokeWidth":1,"size":72,"opacity":1},"encoding":{"x":{"field":"f","type":"quantitative","scale":{"type":"log","domain":[1,10000],"nice":false},"axis":null},"y":{"field":"v","type":"quantitative","scale":{"domain":[-90,0],"nice":false,"zero":false},"axis":null}}},
{"data":{"values":[]},"mark":{"type":"point","filled":true,"opacity":1},"encoding":{"shape":{"field":"n","type":"nominal","scale":{"domain":["0.01mA","0.05mA","0.2mA"],"range":["M-1.3,0H-0.3M0.3,0H1.3M0,-0.3L0.3,0L0,0.3L-0.3,0Z","M-1.3,0H-0.25M0.25,0H1.3M-0.25,-0.25H0.25V0.25H-0.25Z","M-1.3,0H-0.28M0.28,0H1.3M0.28,0A0.28,0.28,0,1,1,-0.28,0A0.28,0.28,0,1,1,0.28,0Z"]},"legend":{"title":null,"orient":"bottom-right","offset":12}},"fill":{"field":"n","type":"nominal","scale":{"domain":["0.01mA","0.05mA","0.2mA"],"range":["#d9d9d9","#9c9c9c","#505050"]},"legend":{"title":null,"orient":"bottom-right","offset":12}},"stroke":{"field":"n","type":"nominal","scale":{"domain":["0.01mA","0.05mA","0.2mA"],"range":["#9a9a9a","#707070","#2a2a2a"]},"legend":{"title":null,"orient":"bottom-right","offset":12}}}}
],
"resolve":{"axis":{"x":"independent","y":"independent"}}},
{"width":256,"height":251,"title":{"text":"(c)","dx":-63,"dy":18},"data":{"name":"nyq"},"transform":[{"filter":"datum.p=='c'"}],
"layer":[
{"mark":{"type":"line","strokeWidth":1.3},"encoding":{"x":{"field":"x","type":"quantitative","scale":{"domain":[0,12],"nice":false,"zero":false},"axis":{"orient":"top","values":[0,3,6,9,12],"labels":false,"title":null}},"y":{"field":"y","type":"quantitative","scale":{"domain":[0,12],"nice":false,"zero":false},"axis":{"orient":"right","values":[0,3,6,9,12],"labels":false,"title":null}},"order":{"field":"k","type":"quantitative"},"color":{"field":"s","type":"nominal","scale":{"domain":[1,2,3],"range":["#c8c8c8","#8c8c8c","#3c3c3c"]},"legend":null}}},
{"transform":[{"filter":"datum.s==1"}],"mark":{"type":"point","shape":"diamond","filled":true,"fill":"#d9d9d9","stroke":"#111","strokeWidth":1.2,"size":169,"opacity":1},"encoding":{"x":{"field":"x","type":"quantitative","scale":{"domain":[0,12],"nice":false,"zero":false},"axis":{"values":[0,3,6,9,12],"labelExpr":"datum.value==9 ? '8' : ''+datum.value","title":"ReZ(kΩ)","labelPadding":14,"titlePadding":1.5}},"y":{"field":"y","type":"quantitative","scale":{"domain":[0,12],"nice":false,"zero":false},"axis":{"values":[0,3,6,9,12],"labelExpr":"datum.value==9 ? '8' : ''+datum.value","title":"-ImZ(k Ω)","labelPadding":11.7,"titlePadding":-2.5}}}},
{"transform":[{"filter":"datum.s==2"}],"mark":{"type":"point","shape":"square","filled":true,"fill":"#9c9c9c","stroke":"#111","strokeWidth":1.2,"size":121,"opacity":1},"encoding":{"x":{"field":"x","type":"quantitative","scale":{"domain":[0,12],"nice":false,"zero":false},"axis":null},"y":{"field":"y","type":"quantitative","scale":{"domain":[0,12],"nice":false,"zero":false},"axis":null}}},
{"transform":[{"filter":"datum.s==3"}],"mark":{"type":"point","shape":"circle","filled":true,"fill":"#505050","stroke":"#111","strokeWidth":1.2,"size":100,"opacity":1},"encoding":{"x":{"field":"x","type":"quantitative","scale":{"domain":[0,12],"nice":false,"zero":false},"axis":null},"y":{"field":"y","type":"quantitative","scale":{"domain":[0,12],"nice":false,"zero":false},"axis":null}}},
{"data":{"values":[]},"mark":{"type":"point","filled":true,"opacity":1},"encoding":{"shape":{"field":"n","type":"nominal","scale":{"domain":["0.01mA","0.05mA","0.2mA"],"range":["M-1.3,0H-0.5M0.5,0H1.3M0,-0.5L0.5,0L0,0.5L-0.5,0Z","M-1.3,0H-0.4M0.4,0H1.3M-0.4,-0.4H0.4V0.4H-0.4Z","M-1.3,0H-0.4M0.4,0H1.3M0.4,0A0.4,0.4,0,1,1,-0.4,0A0.4,0.4,0,1,1,0.4,0Z"]},"legend":{"title":null,"orient":"bottom-right","offset":33}},"fill":{"field":"n","type":"nominal","scale":{"domain":["0.01mA","0.05mA","0.2mA"],"range":["#d9d9d9","#9c9c9c","#505050"]},"legend":{"title":null,"orient":"bottom-right","offset":33}},"stroke":{"field":"n","type":"nominal","scale":{"domain":["0.01mA","0.05mA","0.2mA"],"range":["#707070","#505050","#222222"]},"legend":{"title":null,"orient":"bottom-right","offset":33}}}}
],
"resolve":{"axis":{"x":"independent","y":"independent"}}},
{"width":256,"height":251,"title":{"text":"(f)","dx":-58,"dy":18},"data":{"name":"nyq"},"transform":[{"filter":"datum.p=='f'"}],
"layer":[
{"mark":{"type":"line","strokeWidth":1.3},"encoding":{"x":{"field":"x","type":"quantitative","scale":{"domain":[0,12],"nice":false,"zero":false},"axis":{"orient":"top","values":[0,3,6,9,12],"labels":false,"title":null}},"y":{"field":"y","type":"quantitative","scale":{"domain":[0,12],"nice":false,"zero":false},"axis":{"orient":"right","values":[0,3,6,9,12],"labels":false,"title":null}},"order":{"field":"k","type":"quantitative"},"color":{"field":"s","type":"nominal","scale":{"domain":[1,2,3],"range":["#c8c8c8","#8c8c8c","#3c3c3c"]},"legend":null}}},
{"transform":[{"filter":"datum.s==1"}],"mark":{"type":"point","shape":"diamond","filled":true,"fill":"#d9d9d9","stroke":"#111","strokeWidth":1.2,"size":169,"opacity":1},"encoding":{"x":{"field":"x","type":"quantitative","scale":{"domain":[0,12],"nice":false,"zero":false},"axis":{"values":[0,3,6,9,12],"labelExpr":"datum.value==9 ? '8' : ''+datum.value","title":"ReZ(kΩ)","labelPadding":14,"titlePadding":1.5}},"y":{"field":"y","type":"quantitative","scale":{"domain":[0,12],"nice":false,"zero":false},"axis":{"values":[0,3,6,9,12],"labelExpr":"datum.value==9 ? '8' : ''+datum.value","title":"-ImZ(k Ω)","labelPadding":11.7,"titlePadding":-2.5}}}},
{"transform":[{"filter":"datum.s==2"}],"mark":{"type":"point","shape":"square","filled":true,"fill":"#9c9c9c","stroke":"#111","strokeWidth":1.2,"size":121,"opacity":1},"encoding":{"x":{"field":"x","type":"quantitative","scale":{"domain":[0,12],"nice":false,"zero":false},"axis":null},"y":{"field":"y","type":"quantitative","scale":{"domain":[0,12],"nice":false,"zero":false},"axis":null}}},
{"transform":[{"filter":"datum.s==3"}],"mark":{"type":"point","shape":"circle","filled":true,"fill":"#505050","stroke":"#111","strokeWidth":1.2,"size":100,"opacity":1},"encoding":{"x":{"field":"x","type":"quantitative","scale":{"domain":[0,12],"nice":false,"zero":false},"axis":null},"y":{"field":"y","type":"quantitative","scale":{"domain":[0,12],"nice":false,"zero":false},"axis":null}}},
{"data":{"values":[]},"mark":{"type":"point","filled":true,"opacity":1},"encoding":{"shape":{"field":"n","type":"nominal","scale":{"domain":["0.01mA","0.05mA","0.2mA"],"range":["M-1.3,0H-0.5M0.5,0H1.3M0,-0.5L0.5,0L0,0.5L-0.5,0Z","M-1.3,0H-0.4M0.4,0H1.3M-0.4,-0.4H0.4V0.4H-0.4Z","M-1.3,0H-0.4M0.4,0H1.3M0.4,0A0.4,0.4,0,1,1,-0.4,0A0.4,0.4,0,1,1,0.4,0Z"]},"legend":{"title":null,"orient":"top-right","offset":37}},"fill":{"field":"n","type":"nominal","scale":{"domain":["0.01mA","0.05mA","0.2mA"],"range":["#d9d9d9","#9c9c9c","#505050"]},"legend":{"title":null,"orient":"top-right","offset":37}},"stroke":{"field":"n","type":"nominal","scale":{"domain":["0.01mA","0.05mA","0.2mA"],"range":["#707070","#505050","#222222"]},"legend":{"title":null,"orient":"top-right","offset":37}}}}
],
"resolve":{"axis":{"x":"independent","y":"independent"}}}
]
}
